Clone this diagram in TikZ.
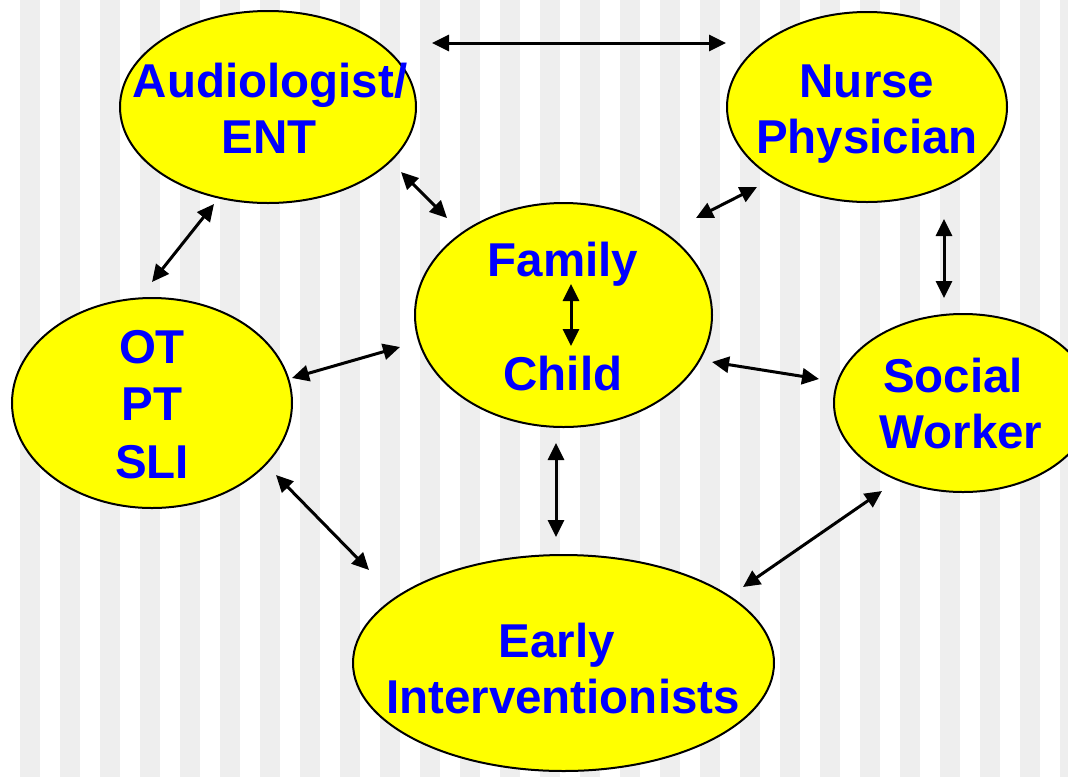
\documentclass[tikz,border=0pt]{standalone}
\usepackage{fontspec}
\setmainfont{Liberation Sans}
\usetikzlibrary{shapes.geometric,arrows.meta}
\definecolor{stripe}{RGB}{238,238,238}
\definecolor{bubblefill}{RGB}{255,255,0}
\definecolor{txtblue}{RGB}{0,0,255}
\begin{document}
\begin{tikzpicture}[x=1pt,y=-1pt,
  bubble/.style={ellipse,draw=black,line width=2pt,fill=bubblefill,inner sep=0pt,outer sep=0pt},
  lbl/.style={anchor=base,text=txtblue,font=\fontsize{47.5}{56}\selectfont\bfseries,inner sep=0pt},
  link/.style={line width=3pt,{Triangle[length=17pt,width=16pt]}-{Triangle[length=17pt,width=16pt]}}]
\useasboundingbox (0,0) rectangle (1068,777);
\clip (0,0) rectangle (1068,777);
\fill[white] (0,0) rectangle (1068,777);
\foreach \i in {0,...,26} \fill[stripe] ({20+40*\i},0) rectangle ({40+40*\i},777);

% bubbles
\node[bubble,minimum width=296,minimum height=192] (aud) at (268,107) {};
\node[bubble,minimum width=280,minimum height=190] (nur) at (867,107) {};
\node[bubble,minimum width=297,minimum height=224] (fam) at (563.5,315) {};
\node[bubble,minimum width=280,minimum height=210] (ot) at (152,403) {};
\node[bubble,minimum width=258,minimum height=178] (soc) at (963,403) {};
\node[bubble,minimum width=421,minimum height=216] (ei) at (563.5,663) {};

% labels
\node[lbl] (audA) at (270,97) {Audiologist/};
\node[lbl] (audB) at (269,153) {ENT};
\node[lbl] (nurA) at (867,97) {Nurse};
\node[lbl] (nurB) at (867,153) {Physician};
\node[lbl] (famA) at (563,276) {Family};
\node[lbl] (famB) at (563,390) {Child};
\node[lbl] (otA) at (152,363) {OT};
\node[lbl] (otB) at (152,420) {PT};
\node[lbl] (otC) at (152,478) {SLI};
\node[lbl] (socA) at (953,392) {Social};
\node[lbl] (socB) at (961,448) {Worker};
\node[lbl] (eiA) at (557,657) {Early};
\node[lbl] (eiB) at (563,713) {Interventionists};

% connector end points
\coordinate (audnur1) at (432,43);  \coordinate (audnur2) at (726,43);
\coordinate (audfam1) at (401,172); \coordinate (audfam2) at (447,218);
\coordinate (nurfam1) at (757,187); \coordinate (nurfam2) at (696,218);
\coordinate (nursoc1) at (944,219); \coordinate (nursoc2) at (944,298);
\coordinate (famsoc1) at (712,362); \coordinate (famsoc2) at (819,379);
\coordinate (audot1) at (214,204);  \coordinate (audot2) at (152,282);
\coordinate (otfam1) at (292,378);  \coordinate (otfam2) at (400,347);
\coordinate (otei1) at (276,475);   \coordinate (otei2) at (369,570);
\coordinate (famei1) at (556,443);  \coordinate (famei2) at (556,537);
\coordinate (socei1) at (882,491);  \coordinate (socei2) at (743,587);
\coordinate (famch1) at (571,284);  \coordinate (famch2) at (571,346);

% connectors
\draw[link] (audnur1) -- (audnur2);
\draw[link] (audfam1) -- (audfam2);
\draw[link] (nurfam1) -- (nurfam2);
\draw[link] (nursoc1) -- (nursoc2);
\draw[link] (famsoc1) -- (famsoc2);
\draw[link] (audot1) -- (audot2);
\draw[link] (otfam1) -- (otfam2);
\draw[link] (otei1) -- (otei2);
\draw[link] (famei1) -- (famei2);
\draw[link] (socei1) -- (socei2);
\draw[link] (famch1) -- (famch2);
\end{tikzpicture}
\end{document}
